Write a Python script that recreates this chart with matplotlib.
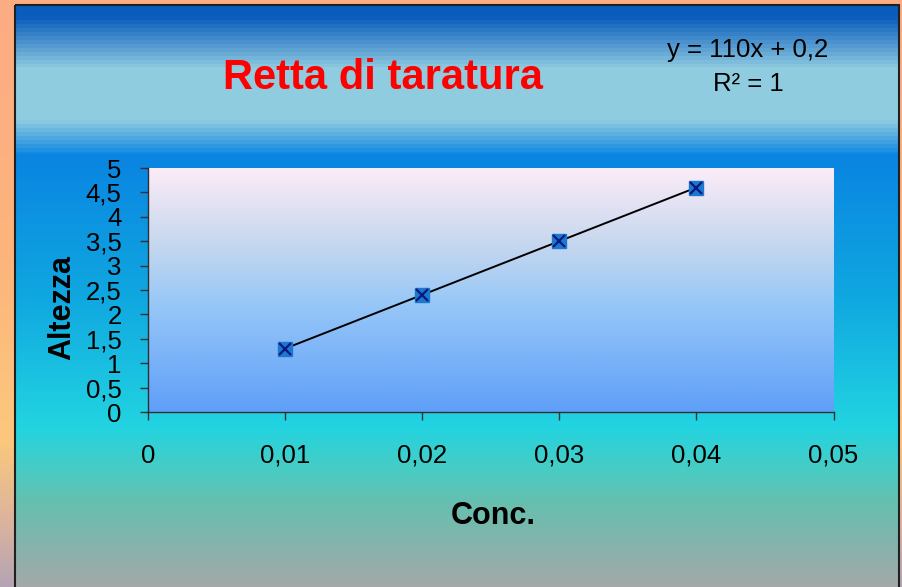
import numpy as np
import matplotlib
matplotlib.use("Agg")
import matplotlib.pyplot as plt
from matplotlib.colors import to_rgb
from matplotlib.ticker import FuncFormatter
from matplotlib.patches import Rectangle

plt.rcParams['font.family'] = ['Liberation Sans', 'DejaVu Sans']

# --- data ---
conc = [0.01, 0.02, 0.03, 0.04]
altezza = [1.3, 2.4, 3.5, 4.6]
x_ticks = [0, 0.01, 0.02, 0.03, 0.04, 0.05]
y_ticks = [0, 0.5, 1, 1.5, 2, 2.5, 3, 3.5, 4, 4.5, 5]
title = "Retta di taratura"
x_label = "Conc."
y_label = "Altezza"

W, H = 903, 587


def vgrad(stops, n, y0=0, y1=None, band=None):
    # vertical colour profile from (pixel, colour) stops
    y1 = n if y1 is None else y1
    ys = np.linspace(y0, y1, n)
    if band is not None:
        lo, hi, step = band
        m = (ys > lo[0]) & (ys < lo[1]) | (ys > hi[0]) & (ys < hi[1])
        ys = np.where(m, np.floor(ys / step) * step, ys)
    pos = [s[0] for s in stops]
    cols = np.array([to_rgb(s[1]) for s in stops])
    img = np.stack([np.interp(ys, pos, cols[:, k]) for k in range(3)], axis=1)
    return img[:, None, :]


fig = plt.figure(figsize=(W / 100, H / 100), dpi=100)

# background: outer stripe + framed gradient
bg = fig.add_axes([0, 0, 1, 1])
bg.set_xlim(0, W)
bg.set_ylim(H, 0)
bg.axis('off')
outer = vgrad([(0, '#fdac84'), (250, '#fcb47c'), (440, '#fcc87c'),
               (520, '#dcb49c'), (587, '#b4a4b4')], H)
bg.imshow(outer, extent=[0, W, H, 0], aspect='auto', zorder=0)
inner = vgrad([(5, '#0a5cbc'), (15, '#0a5cbc'), (67, '#90cce0'), (118, '#90cce0'),
               (154, '#0a84e2'), (300, '#10a8e0'), (427, '#22d4e0'),
               (470, '#48ccc4'), (500, '#64c0b0'), (587, '#a4a8a8')],
              H - 5, 5, H, band=((15, 67), (118, 154), 4))
bg.imshow(inner, extent=[15, 899, H, 5], aspect='auto', zorder=1)
bg.add_patch(Rectangle((15, 5), 884, H, fill=False, ec='#202020', lw=1.5, zorder=2))

# equation of the trend line
slope, intercept = np.polyfit(conc, altezza, 1)
pred = np.polyval([slope, intercept], conc)
r2 = 1 - np.sum((np.array(altezza) - pred) ** 2) / np.sum((np.array(altezza) - np.mean(altezza)) ** 2)

bg.text(383, 78, title, color='#ff0000', fontsize=30, fontweight='bold',
        ha='center', va='center', zorder=3)
bg.text(748, 50, f"y = {slope:.0f}x + {intercept:g}".replace('.', ','),
        fontsize=18.5, ha='center', va='center', zorder=3)
bg.text(748, 84, f"R² = {r2:.0f}", fontsize=18.5, ha='center', va='center', zorder=3)

# plot area
ax = fig.add_axes([148 / W, (H - 412) / H, (833.5 - 148) / W, (412 - 168) / H])
ax.set_facecolor('none')
ax.set_xlim(0, 0.05)
ax.set_ylim(0, 5)
area = vgrad([(0, '#fcecf8'), (0.3, '#c8d8ee'), (0.55, '#98c8f8'), (1, '#5f9ff8')], 200, 0, 1)
ax.imshow(area, extent=[0, 0.05, 0, 5], aspect='auto', zorder=0)

xs = np.array([min(conc), max(conc)])
ax.plot(xs, slope * xs + intercept, color='black', lw=1.4, zorder=2)
ax.plot(conc, altezza, ls='none', marker='s', ms=10, mfc='#1c78cc', mec='#1c78cc', zorder=3)
ax.plot(conc, altezza, ls='none', marker='x', ms=9, mew=1.6, mec='#0a1880', zorder=4)

fmt = FuncFormatter(lambda v, p: f"{v:g}".replace('.', ','))
ax.set_xticks(x_ticks)
ax.set_yticks(y_ticks)
ax.xaxis.set_major_formatter(fmt)
ax.yaxis.set_major_formatter(fmt)
ax.tick_params(axis='both', direction='out', length=6, width=1, color='#303030',
               labelsize=18.5)
ax.tick_params(axis='x', pad=17)
ax.tick_params(axis='y', pad=13)
for s in ['top', 'right']:
    ax.spines[s].set_visible(False)
for s in ['left', 'bottom']:
    ax.spines[s].set_color('#303030')
    ax.spines[s].set_linewidth(1)

bg.text(62, 307, y_label, fontsize=22, fontweight='bold', rotation=90,
        ha='center', va='center', zorder=3)
bg.text(493, 516, x_label, fontsize=22, fontweight='bold',
        ha='center', va='center', zorder=3)

fig.savefig('out.png', dpi=100)
